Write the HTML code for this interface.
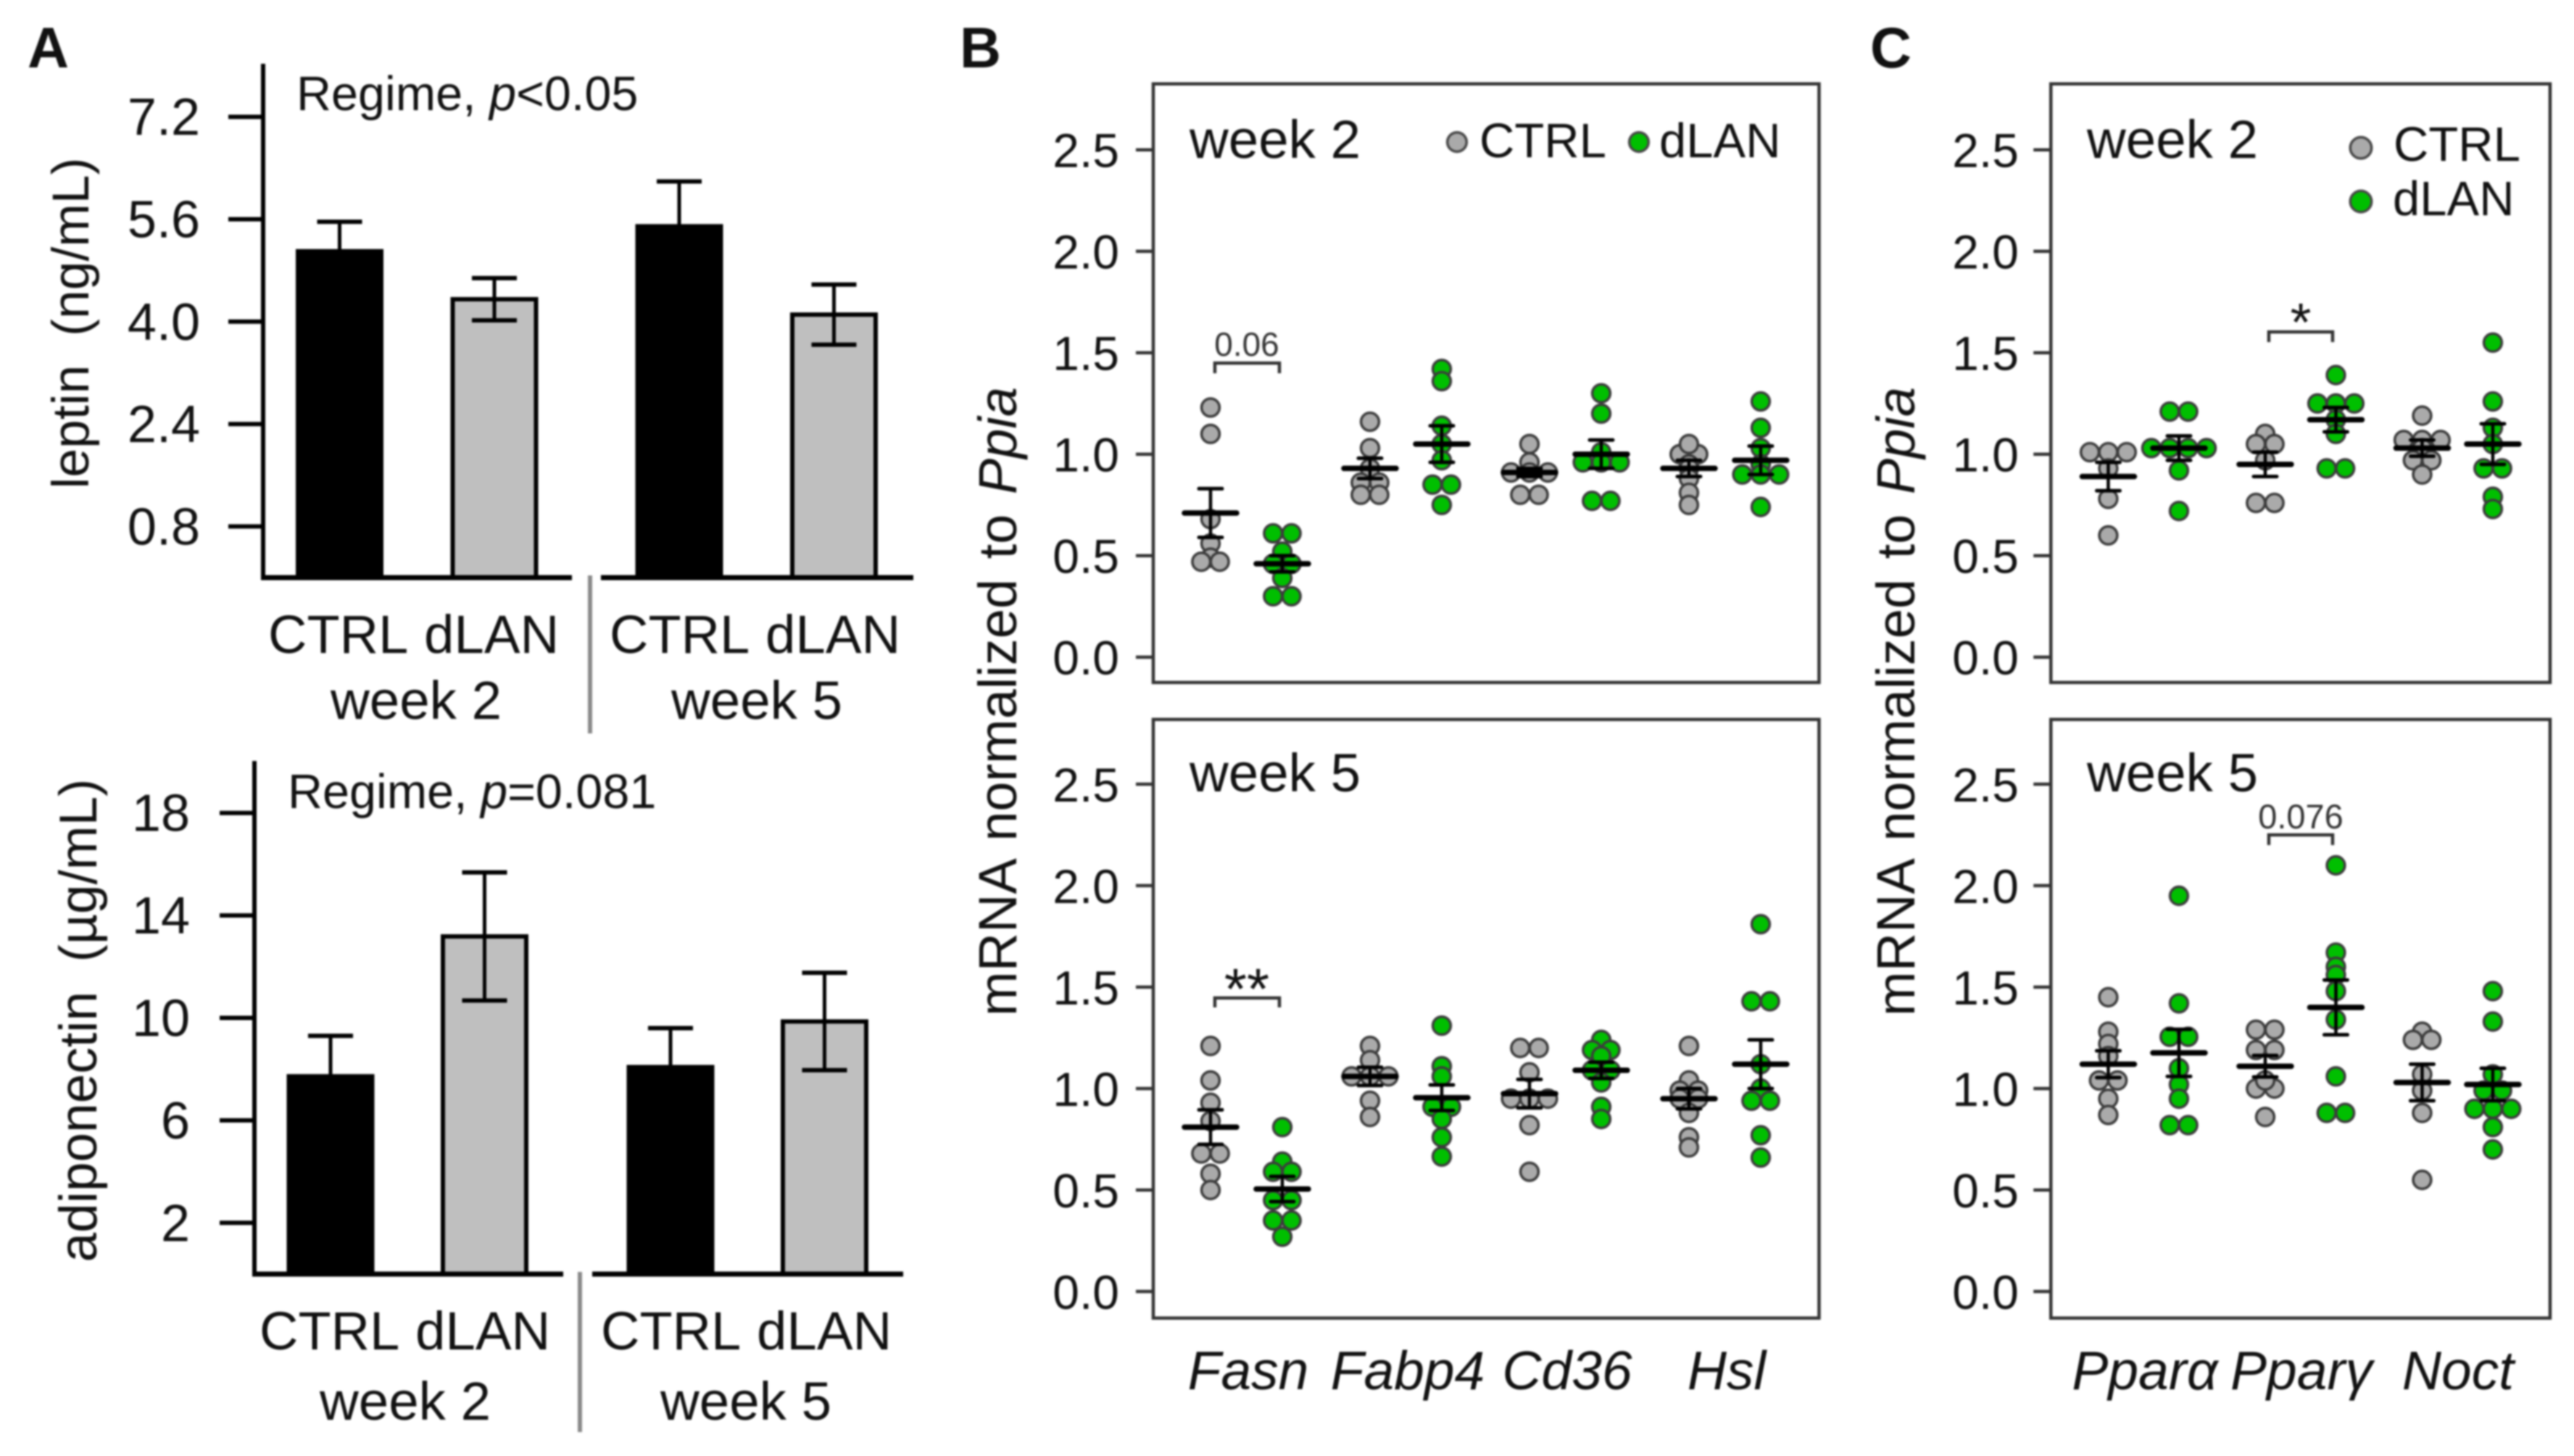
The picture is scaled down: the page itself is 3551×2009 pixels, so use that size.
<!DOCTYPE html>
<html lang="en">
<head>
<meta charset="utf-8">
<title>Leptin, adiponectin and mRNA expression under dLAN</title>
<style>
html,body{margin:0;padding:0;background:#fff;}
#figure{display:block;width:3551px;height:2009px;filter:blur(1.3px);font-family:"Liberation Sans",sans-serif;fill:#111;}
</style>
</head>
<body>
<svg id="figure" xmlns="http://www.w3.org/2000/svg" width="3551" height="2009" viewBox="0 0 3551 2009">
<rect x="0" y="0" width="3551" height="2009" fill="#ffffff"/>
<g id="layer"></g>
<g>
<text x="38" y="93" font-size="79" font-weight="bold">A</text>
<text x="1324" y="93" font-size="79" font-weight="bold">B</text>
<text x="2580" y="93" font-size="79" font-weight="bold">C</text>

<text transform="translate(122,446) rotate(-90)" text-anchor="middle" font-size="71.5" xml:space="preserve">leptin  (ng/mL)</text>
<text x="409" y="152" font-size="66.5">Regime, <tspan font-style="italic">p</tspan>&lt;0.05</text>
<text x="370" y="901" font-size="74">CTRL</text>
<text x="585" y="901" font-size="74.5">dLAN</text>
<text x="574" y="992" font-size="74.5" text-anchor="middle">week 2</text>
<text x="841" y="901" font-size="74">CTRL</text>
<text x="1056" y="901" font-size="74.5">dLAN</text>
<text x="1044" y="992" font-size="74.5" text-anchor="middle">week 5</text>

<text transform="translate(133,1408) rotate(-90)" text-anchor="middle" font-size="73" xml:space="preserve">adiponectin  (µg/mL)</text>
<text x="397" y="1115" font-size="66.5">Regime, <tspan font-style="italic">p</tspan>=0.081</text>
<text x="358" y="1862" font-size="74">CTRL</text>
<text x="573" y="1862" font-size="74.5">dLAN</text>
<text x="559" y="1959" font-size="74.5" text-anchor="middle">week 2</text>
<text x="829" y="1862" font-size="74">CTRL</text>
<text x="1044" y="1862" font-size="74.5">dLAN</text>
<text x="1029" y="1959" font-size="74.5" text-anchor="middle">week 5</text>

<text transform="translate(1402,968) rotate(-90)" text-anchor="middle" font-size="74" word-spacing="7">mRNA normalized to <tspan font-style="italic">Ppia</tspan></text>
<text transform="translate(2641,968) rotate(-90)" text-anchor="middle" font-size="74" word-spacing="7">mRNA normalized to <tspan font-style="italic">Ppia</tspan></text>

<text x="1641" y="218" font-size="74.5">week 2</text>
<text x="1641" y="1092" font-size="74.5">week 5</text>
<text x="2879" y="218" font-size="74.5">week 2</text>
<text x="2879" y="1092" font-size="74.5">week 5</text>

<circle cx="2010" cy="196" r="13.3" fill="#aaaaaa" stroke="#484848" stroke-width="3.6"/>
<text x="2041" y="217" font-size="67">CTRL</text>
<circle cx="2261" cy="196" r="13.3" fill="#00bf00" stroke="#484848" stroke-width="3.6"/>
<text x="2289" y="217" font-size="67">dLAN</text>

<circle cx="3257" cy="204" r="14.7" fill="#aaaaaa" stroke="#484848" stroke-width="3.6"/>
<text x="3302" y="222" font-size="67">CTRL</text>
<circle cx="3257" cy="278" r="14.7" fill="#00bf00" stroke="#484848" stroke-width="3.6"/>
<text x="3301" y="297" font-size="67">dLAN</text>

<text x="1720" y="491" font-size="46" text-anchor="middle" fill="#333333">0.06</text>
<path d="M1676 515V501H1765V515" fill="none" stroke="#333333" stroke-width="4.5"/>
<text x="1720" y="1392" font-size="80" text-anchor="middle">**</text>
<path d="M1676 1390V1377H1765V1390" fill="none" stroke="#333333" stroke-width="4.5"/>
<text x="3174" y="470" font-size="74" text-anchor="middle">*</text>
<path d="M3130 472V458H3218V472" fill="none" stroke="#333333" stroke-width="4.5"/>
<text x="3174" y="1143" font-size="47" text-anchor="middle" fill="#333333">0.076</text>
<path d="M3130 1166V1152H3218V1166" fill="none" stroke="#333333" stroke-width="4.5"/>
</g>
</svg>
<script>
// ---- Bar chart data (panel A) ----
const leptinCategories = ['CTRL week 2', 'dLAN week 2', 'CTRL week 5', 'dLAN week 5'];
const leptinMeans = [5.10, 4.35, 5.49, 4.11];
const leptinErrors = [0.46, 0.33, 0.70, 0.47];
const leptinTicks = [0.8, 2.4, 4.0, 5.6, 7.2];
const leptinTickLabels = ['0.8', '2.4', '4.0', '5.6', '7.2'];

const adipoCategories = ['CTRL week 2', 'dLAN week 2', 'CTRL week 5', 'dLAN week 5'];
const adipoMeans = [7.72, 13.18, 8.08, 9.86];
const adipoErrors = [1.58, 2.50, 1.52, 1.90];
const adipoTicks = [2, 6, 10, 14, 18];
const adipoTickLabels = ['2', '6', '10', '14', '18'];

// ---- Dot plot data (panels B, C) ----
const mrnaTicks = [0, 0.5, 1.0, 1.5, 2.0, 2.5];
const mrnaTickLabels = ['0.0', '0.5', '1.0', '1.5', '2.0', '2.5'];
const genesB = ['Fasn', 'Fabp4', 'Cd36', 'Hsl'];
const genesC = ['Pparα', 'Pparγ', 'Noct'];

const bWeek2Ctrl = [
  [1.23, 1.10, 0.68, 0.56, 0.49, 0.47, 0.47],
  [1.16, 1.03, 0.93, 0.86, 0.86, 0.80, 0.80],
  [1.05, 0.96, 0.91, 0.91, 0.91, 0.80, 0.80],
  [1.05, 1.00, 1.00, 0.95, 0.93, 0.88, 0.81, 0.75]
];
const bWeek2CtrlMean = [0.71, 0.93, 0.91, 0.93];
const bWeek2CtrlSem = [0.12, 0.05, 0.02, 0.04];
const bWeek2Dlan = [
  [0.61, 0.61, 0.52, 0.46, 0.46, 0.39, 0.30, 0.30],
  [1.42, 1.36, 1.14, 1.05, 0.97, 0.85, 0.85, 0.75],
  [1.30, 1.20, 1.01, 0.96, 0.96, 0.96, 0.77, 0.77],
  [1.26, 1.13, 1.03, 0.95, 0.90, 0.90, 0.90, 0.74]
];
const bWeek2DlanMean = [0.46, 1.05, 1.00, 0.97];
const bWeek2DlanSem = [0.04, 0.09, 0.07, 0.07];

const bWeek5Ctrl = [
  [1.21, 1.04, 0.93, 0.84, 0.68, 0.68, 0.58, 0.50],
  [1.21, 1.14, 1.06, 1.06, 1.06, 0.94, 0.86],
  [1.20, 1.20, 1.08, 0.95, 0.95, 0.95, 0.82, 0.59],
  [1.21, 1.04, 0.99, 0.99, 0.95, 0.95, 0.88, 0.76, 0.71]
];
const bWeek5CtrlMean = [0.81, 1.06, 0.975, 0.95];
const bWeek5CtrlSem = [0.085, 0.045, 0.07, 0.05];
const bWeek5Dlan = [
  [0.81, 0.64, 0.59, 0.59, 0.45, 0.45, 0.35, 0.35, 0.27],
  [1.31, 1.11, 1.06, 0.91, 0.91, 0.85, 0.76, 0.665],
  [1.24, 1.19, 1.19, 1.16, 1.09, 1.09, 1.03, 0.91, 0.85],
  [1.81, 1.43, 1.43, 1.12, 1.00, 0.94, 0.94, 0.77, 0.66]
];
const bWeek5DlanMean = [0.505, 0.955, 1.09, 1.12];
const bWeek5DlanSem = [0.062, 0.063, 0.04, 0.12];

const cWeek2Ctrl = [
  [1.01, 1.01, 1.01, 0.93, 0.78, 0.60],
  [1.10, 1.05, 1.05, 0.97, 0.76, 0.76],
  [1.19, 1.07, 1.07, 1.07, 1.03, 0.97, 0.97, 0.90]
];
const cWeek2CtrlMean = [0.89, 0.95, 1.03];
const cWeek2CtrlSem = [0.07, 0.06, 0.04];
const cWeek2Dlan = [
  [1.21, 1.21, 1.03, 1.03, 1.03, 1.03, 0.92, 0.72],
  [1.39, 1.25, 1.25, 1.25, 1.17, 1.10, 0.93, 0.93],
  [1.55, 1.26, 1.13, 1.05, 0.93, 0.93, 0.79, 0.73]
];
const cWeek2DlanMean = [1.03, 1.17, 1.05];
const cWeek2DlanSem = [0.06, 0.06, 0.10];

const cWeek5Ctrl = [
  [1.45, 1.28, 1.22, 1.16, 1.04, 1.04, 0.95, 0.87],
  [1.29, 1.29, 1.19, 1.19, 1.04, 1.00, 1.00, 0.86],
  [1.28, 1.24, 1.24, 1.07, 0.99, 0.88, 0.55]
];
const cWeek5CtrlMean = [1.12, 1.11, 1.03];
const cWeek5CtrlSem = [0.066, 0.053, 0.09];
const cWeek5Dlan = [
  [1.95, 1.42, 1.255, 1.255, 1.10, 1.02, 0.95, 0.82, 0.82],
  [2.10, 1.67, 1.60, 1.56, 1.48, 1.34, 1.06, 0.88, 0.88],
  [1.48, 1.33, 1.07, 0.99, 0.99, 0.90, 0.90, 0.90, 0.81, 0.70]
];
const cWeek5DlanMean = [1.176, 1.40, 1.02];
const cWeek5DlanSem = [0.116, 0.135, 0.08];

const SVG_NS = 'http://www.w3.org/2000/svg';
const layer = document.getElementById('layer');

function make(tag, attrs) {
  const el = document.createElementNS(SVG_NS, tag);
  for (const key in attrs) el.setAttribute(key, attrs[key]);
  layer.appendChild(el);
  return el;
}

function linearY(zeroPx, pxPerUnit) {
  return function (v) { return zeroPx - v * pxPerUnit; };
}

function drawLine(x1, y1, x2, y2, color, width, name, cap) {
  const el = make('line', { x1: x1, y1: y1, x2: x2, y2: y2, stroke: color, 'stroke-width': width, 'stroke-linecap': cap || 'butt' });
  
  
  return el;
}

function drawTickLabel(x, y, label, size, name) {
  const el = make('text', { x: x, y: y, 'font-size': size, 'text-anchor': 'end' });
  el.textContent = label;
  
  
}

function drawBarChart(prefix, cats, means, errs, ticks, tickLabels, yScale, axisX, axisTop, baseLeft, baseRight, sepX, sepBottom, firstCenter, barStep, groupStep, labelRight) {
  const base = yScale(0);
  cats.forEach(function (cat, i) {
    const group = Math.floor(i / 2);
    const cx = firstCenter + group * groupStep + (i % 2) * barStep;
    const isCtrl = i % 2 === 0;
    const top = yScale(means[i]);
    const bar = make('rect', { x: cx - 57.5, y: top, width: 115, height: base - top, fill: isCtrl ? '#000000' : '#bfbfbf', stroke: '#000000', 'stroke-width': 6 });
    
    
    drawLine(cx, yScale(means[i] + errs[i]), cx, yScale(means[i] - errs[i]), '#000000', 5, prefix + '-error-stem-' + i);
    drawLine(cx - 31, yScale(means[i] + errs[i]), cx + 31, yScale(means[i] + errs[i]), '#000000', 6, prefix + '-error-cap-upper-' + i);
    drawLine(cx - 31, yScale(means[i] - errs[i]), cx + 31, yScale(means[i] - errs[i]), '#000000', 6, prefix + '-error-cap-lower-' + i);
  });
  drawLine(axisX, axisTop, axisX, base + 3, '#000000', 6, prefix + '-y-axis');
  drawLine(baseLeft, base, baseRight[0], base, '#000000', 7, prefix + '-baseline-week2');
  drawLine(baseRight[1], base, baseRight[2], base, '#000000', 7, prefix + '-baseline-week5');
  drawLine(sepX, base - 3, sepX, sepBottom, '#8a8a8a', 6, prefix + '-week-separator');
  ticks.forEach(function (t, i) {
    const y = yScale(t);
    drawLine(axisX - 48, y, axisX, y, '#000000', 6, prefix + '-y-tick-' + i);
    drawTickLabel(labelRight, y + 25, tickLabels[i], 72, prefix + '-y-tick-label-' + i);
  });
}

function drawDots(prefix, values, cx, yScale, fill) {
  const spacing = 25.4;
  const rows = {};
  values.forEach(function (v) { rows[v] = (rows[v] || 0) + 1; });
  Object.keys(rows).forEach(function (key) {
    const count = rows[key];
    for (let i = 0; i < count; i++) {
      const dot = make('circle', { cx: cx + (i - (count - 1) / 2) * spacing, cy: yScale(Number(key)), r: 12.4, fill: fill, stroke: '#3c3c3c', 'stroke-width': 3.6 });
      
      
    }
  });
}

function drawMeanSem(prefix, mean, sem, cx, yScale) {
  drawLine(cx, yScale(mean + sem), cx, yScale(mean - sem), '#000000', 4.5, prefix + '-sem-stem');
  drawLine(cx - 16, yScale(mean + sem), cx + 16, yScale(mean + sem), '#000000', 5, prefix + '-sem-cap-upper', 'round');
  drawLine(cx - 16, yScale(mean - sem), cx + 16, yScale(mean - sem), '#000000', 5, prefix + '-sem-cap-lower', 'round');
  drawLine(cx - 36, yScale(mean), cx + 36, yScale(mean), '#000000', 7.5, prefix + '-mean-line', 'round');
}

function drawDotPanel(prefix, genes, ctrl, ctrlMean, ctrlSem, dlan, dlanMean, dlanSem, yScale, frameX, frameW, frameY, frameH, firstCenter, geneStep, pairStep, labelRight) {
  genes.forEach(function (gene, g) {
    const cxCtrl = firstCenter + g * geneStep;
    const cxDlan = cxCtrl + pairStep;
    drawDots(prefix + '-' + gene + '-ctrl', ctrl[g], cxCtrl, yScale, '#aaaaaa');
    drawDots(prefix + '-' + gene + '-dlan', dlan[g], cxDlan, yScale, '#00bf00');
    drawMeanSem(prefix + '-' + gene + '-ctrl', ctrlMean[g], ctrlSem[g], cxCtrl, yScale);
    drawMeanSem(prefix + '-' + gene + '-dlan', dlanMean[g], dlanSem[g], cxDlan, yScale);
  });
  const frame = make('rect', { x: frameX, y: frameY, width: frameW, height: frameH, fill: 'none', stroke: '#333333', 'stroke-width': 4.5 });
  
  
  mrnaTicks.forEach(function (t, i) {
    const y = yScale(t);
    drawLine(frameX - 24, y, frameX, y, '#333333', 4.5, prefix + '-y-tick-' + i);
    drawTickLabel(labelRight, y + 24, mrnaTickLabels[i], 66, prefix + '-y-tick-label-' + i);
  });
}

function drawGeneLabels(prefix, genes, firstX, step, baseline) {
  genes.forEach(function (gene, g) {
    const el = make('text', { x: firstX + g * step, y: baseline, 'font-size': 75, 'font-style': 'italic', 'text-anchor': 'middle' });
    el.textContent = gene;
    
    
  });
}

const yLeptin = linearY(797, 88.3);
const yAdipo = linearY(1758, 35.35);
const yTop = linearY(906.7, 280);
const yBottom = linearY(1782, 280);

drawBarChart('leptin', leptinCategories, leptinMeans, leptinErrors, leptinTicks, leptinTickLabels, yLeptin, 363, 88, 360, [789, 829, 1260], 814, 1012, 468.5, 213.5, 468.5, 276);
drawBarChart('adiponectin', adipoCategories, adipoMeans, adipoErrors, adipoTicks, adipoTickLabels, yAdipo, 351, 1050, 348, [777, 817, 1246], 800, 1976, 456, 212.5, 469, 262);

drawDotPanel('panel-b-week2', genesB, bWeek2Ctrl, bWeek2CtrlMean, bWeek2CtrlSem, bWeek2Dlan, bWeek2DlanMean, bWeek2DlanSem, yTop, 1591, 918.5, 115.7, 826, 1670, 220, 99, 1544);
drawDotPanel('panel-b-week5', genesB, bWeek5Ctrl, bWeek5CtrlMean, bWeek5CtrlSem, bWeek5Dlan, bWeek5DlanMean, bWeek5DlanSem, yBottom, 1591, 918.5, 992.7, 826, 1670, 220, 99, 1544);
drawDotPanel('panel-c-week2', genesC, cWeek2Ctrl, cWeek2CtrlMean, cWeek2CtrlSem, cWeek2Dlan, cWeek2DlanMean, cWeek2DlanSem, yTop, 2829.3, 688.7, 115.7, 826, 2908.5, 216.5, 97.5, 2785);
drawDotPanel('panel-c-week5', genesC, cWeek5Ctrl, cWeek5CtrlMean, cWeek5CtrlSem, cWeek5Dlan, cWeek5DlanMean, cWeek5DlanSem, yBottom, 2829.3, 688.7, 992.7, 826, 2908.5, 216.5, 97.5, 2785);

drawGeneLabels('panel-b', genesB, 1722, 220, 1917);
drawGeneLabels('panel-c', genesC, 2959, 216, 1917);
</script>
</body>
</html>
